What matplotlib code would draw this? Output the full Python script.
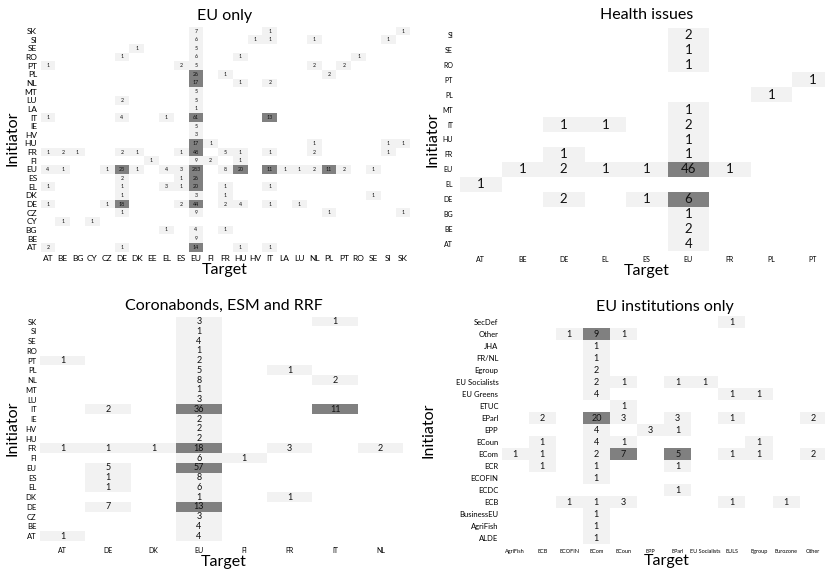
import numpy as np
import matplotlib
matplotlib.use("Agg")
import matplotlib.pyplot as plt
from matplotlib.colors import ListedColormap, BoundaryNorm

plt.rcParams['font.family'] = ['Lato', 'DejaVu Sans']

W, H = 825, 570
LIGHT = "#f2f2f2"
DARK = "#808080"

# ---- EU only ----
eu_targets = ["AT", "BE", "BG", "CY", "CZ", "DE", "DK", "EE", "EL", "ES", "EU",
              "FI", "FR", "HU", "HV", "IT", "LA", "LU", "NL", "PL", "PT", "RO",
              "SE", "SI", "SK"]
eu_initiators = ["AT", "BE", "BG", "CY", "CZ", "DE", "DK", "EL", "ES", "EU", "FI",
                 "FR", "HU", "HV", "IE", "IT", "LA", "LU", "MT", "NL", "PL", "PT",
                 "RO", "SE", "SI", "SK"]
eu_counts = {
    "AT": {"AT": 2, "DE": 1, "EU": 14, "HU": 1, "IT": 1},
    "BE": {"EU": 9},
    "BG": {"EL": 1, "EU": 4, "FR": 1},
    "CY": {"BE": 1, "CY": 1},
    "CZ": {"DE": 1, "EU": 9, "PL": 1, "SK": 1},
    "DE": {"AT": 1, "CZ": 1, "DE": 18, "ES": 2, "EU": 44, "FR": 2, "HU": 4,
           "IT": 1, "LU": 1},
    "DK": {"DE": 1, "EU": 3, "FR": 1, "SE": 1},
    "EL": {"AT": 1, "DE": 1, "EL": 3, "ES": 1, "EU": 20, "FR": 1, "IT": 1},
    "ES": {"DE": 2, "ES": 1, "EU": 26},
    "EU": {"AT": 4, "BE": 1, "CZ": 1, "DE": 23, "DK": 1, "EL": 4, "ES": 3,
           "EU": 283, "FR": 8, "HU": 20, "IT": 11, "LA": 1, "LU": 1, "NL": 2,
           "PL": 11, "PT": 2, "SE": 1},
    "FI": {"EE": 1, "EU": 9, "FI": 2, "HU": 1},
    "FR": {"AT": 1, "BE": 2, "BG": 1, "DE": 2, "DK": 1, "ES": 1, "EU": 48,
           "FR": 5, "HU": 1, "IT": 1, "NL": 2, "SI": 1},
    "HU": {"EU": 17, "FI": 1, "NL": 1, "SI": 1, "SK": 1},
    "HV": {"EU": 3},
    "IE": {"EU": 5},
    "IT": {"AT": 1, "DE": 4, "EL": 1, "EU": 61, "IT": 13},
    "LA": {"EU": 1},
    "LU": {"DE": 2, "EU": 5},
    "MT": {"EU": 5},
    "NL": {"EU": 17, "HU": 1, "IT": 2},
    "PL": {"EU": 26, "FR": 1, "PL": 2},
    "PT": {"AT": 1, "ES": 2, "EU": 5, "NL": 2, "PT": 2},
    "RO": {"DE": 1, "EU": 6, "HU": 1, "RO": 1},
    "SE": {"DK": 1, "EU": 5},
    "SI": {"EU": 6, "HV": 1, "IT": 1, "NL": 1, "SI": 1},
    "SK": {"EU": 7, "IT": 1, "SK": 1},
}

# ---- Health issues ----
health_targets = ["AT", "BE", "DE", "EL", "ES", "EU", "FR", "PL", "PT"]
health_initiators = ["AT", "BE", "BG", "DE", "EL", "EU", "FR", "HU", "IT", "MT",
                     "PL", "PT", "RO", "SE", "SI"]
health_counts = {
    "AT": {"EU": 4},
    "BE": {"EU": 2},
    "BG": {"EU": 1},
    "DE": {"DE": 2, "ES": 1, "EU": 6},
    "EL": {"AT": 1},
    "EU": {"BE": 1, "DE": 2, "EL": 1, "ES": 1, "EU": 46, "FR": 1},
    "FR": {"DE": 1, "EU": 1},
    "HU": {"EU": 1},
    "IT": {"DE": 1, "EL": 1, "EU": 2},
    "MT": {"EU": 1},
    "PL": {"PL": 1},
    "PT": {"PT": 1},
    "RO": {"EU": 1},
    "SE": {"EU": 1},
    "SI": {"EU": 2},
}

# ---- Coronabonds, ESM and RRF ----
corona_targets = ["AT", "DE", "DK", "EU", "FI", "FR", "IT", "NL"]
corona_initiators = ["AT", "BE", "CZ", "DE", "DK", "EL", "ES", "EU", "FI", "FR",
                     "HU", "HV", "IE", "IT", "LU", "MT", "NL", "PL", "PT", "RO",
                     "SE", "SI", "SK"]
corona_counts = {
    "AT": {"AT": 1, "EU": 4},
    "BE": {"EU": 4},
    "CZ": {"EU": 3},
    "DE": {"DE": 7, "EU": 13},
    "DK": {"EU": 1, "FR": 1},
    "EL": {"DE": 1, "EU": 6},
    "ES": {"DE": 1, "EU": 8},
    "EU": {"DE": 5, "EU": 57},
    "FI": {"EU": 6, "FI": 1},
    "FR": {"AT": 1, "DE": 1, "DK": 1, "EU": 18, "FR": 3, "NL": 2},
    "HU": {"EU": 2},
    "HV": {"EU": 2},
    "IE": {"EU": 2},
    "IT": {"DE": 2, "EU": 36, "IT": 11},
    "LU": {"EU": 3},
    "MT": {"EU": 1},
    "NL": {"EU": 8, "IT": 2},
    "PL": {"EU": 5, "FR": 1},
    "PT": {"AT": 1, "EU": 2},
    "RO": {"EU": 1},
    "SE": {"EU": 4},
    "SI": {"EU": 1},
    "SK": {"EU": 3, "IT": 1},
}

# ---- EU institutions only ----
inst_targets = ["AgriFish", "ECB", "ECOFIN", "ECom", "ECoun", "EPP", "EParl",
                "EU Socialists", "EULS", "Egroup", "Eurozone", "Other"]
inst_initiators = ["ALDE", "AgriFish", "BusinessEU", "ECB", "ECDC", "ECOFIN",
                   "ECR", "ECom", "ECoun", "EPP", "EParl", "ETUC", "EU Greens",
                   "EU Socialists", "Egroup", "FR/NL", "JHA", "Other", "SecDef"]
inst_counts = {
    "ALDE": {"ECom": 1},
    "AgriFish": {"ECom": 1},
    "BusinessEU": {"ECom": 1},
    "ECB": {"ECOFIN": 1, "ECom": 1, "ECoun": 3, "EULS": 1, "Eurozone": 1},
    "ECDC": {"EParl": 1},
    "ECOFIN": {"ECom": 1},
    "ECR": {"ECB": 1, "ECom": 1, "EParl": 1},
    "ECom": {"AgriFish": 1, "ECB": 1, "ECom": 2, "ECoun": 7, "EParl": 5,
             "EULS": 1, "Egroup": 1, "Other": 2},
    "ECoun": {"ECB": 1, "ECom": 4, "ECoun": 1, "Egroup": 1},
    "EPP": {"ECom": 4, "EPP": 3, "EParl": 1},
    "EParl": {"ECB": 2, "ECom": 20, "ECoun": 3, "EParl": 3, "EULS": 1, "Other": 2},
    "ETUC": {"ECoun": 1},
    "EU Greens": {"ECom": 4, "EULS": 1, "Egroup": 1},
    "EU Socialists": {"ECom": 2, "ECoun": 1, "EParl": 1, "EU Socialists": 1},
    "Egroup": {"ECom": 2},
    "FR/NL": {"ECom": 1},
    "JHA": {"ECom": 1},
    "Other": {"ECOFIN": 1, "ECom": 9, "ECoun": 1},
    "SecDef": {"EULS": 1},
}


def px_rect(left, top, right, bottom):
    return [left / W, 1 - bottom / H, (right - left) / W, (bottom - top) / H]


def draw_panel(fig, box, title, targets, initiators, counts, dark_from,
               cell_fs, ytick_fs, xtick_fs, ypad, xpad, title_xy, target_xy,
               init_xy):
    ax = fig.add_axes(px_rect(*box))
    grid = np.zeros((len(initiators), len(targets)))
    for row, cells in counts.items():
        for col, val in cells.items():
            grid[initiators.index(row), targets.index(col)] = val

    cmap = ListedColormap([LIGHT, DARK])
    norm = BoundaryNorm([0.5, dark_from - 0.5, grid.max() + 1], 2)
    ax.pcolormesh(np.ma.masked_equal(grid, 0), cmap=cmap, norm=norm,
                  edgecolors="none", antialiased=False)
    for i, j in zip(*np.nonzero(grid)):
        ax.text(j + 0.5, i + 0.5, f"{int(grid[i, j])}", ha="center",
                va="center", fontsize=cell_fs, color="#111111")

    ax.set_xlim(0, len(targets))
    ax.set_ylim(0, len(initiators))
    ax.set_xticks(np.arange(len(targets)) + 0.5, targets, fontsize=xtick_fs)
    ax.set_yticks(np.arange(len(initiators)) + 0.5, initiators,
                  fontsize=ytick_fs)
    ax.tick_params(axis="y", length=0, pad=ypad)
    ax.tick_params(axis="x", length=0, pad=xpad)
    for s in ax.spines.values():
        s.set_visible(False)

    fig.text(title_xy[0] / W, 1 - title_xy[1] / H, title, fontsize=11.5,
             ha="center", va="center")
    fig.text(target_xy[0] / W, 1 - target_xy[1] / H, "Target", fontsize=11.5,
             ha="center", va="center")
    fig.text(init_xy[0] / W, 1 - init_xy[1] / H, "Initiator", fontsize=11.5,
             ha="center", va="center", rotation=90)
    return ax


fig = plt.figure(figsize=(W / 100, H / 100), dpi=100)

draw_panel(fig, (40.6, 26.7, 410.4, 251.6), "EU only", eu_targets,
           eu_initiators, eu_counts, 10, 3.8, 6, 6, 2.5, 2.5,
           (225, 16), (225, 270), (13, 138))
draw_panel(fig, (460, 27.5, 833.5, 251.5), "Health issues", health_targets,
           health_initiators, health_counts, 5, 9.5, 5, 5, 5, 3.5,
           (647, 15), (647, 270.5), (432, 139))
draw_panel(fig, (40, 316.7, 403.3, 541), "Coronabonds, ESM and RRF",
           corona_targets, corona_initiators, corona_counts, 10, 6.5, 5.5, 5,
           2.4, 4.5, (224, 306), (224, 562), (12.5, 428))
draw_panel(fig, (501.5, 316.3, 826.7, 544.3), "EU institutions only",
           inst_targets, inst_initiators, inst_counts, 5, 6.5, 5.5, 4,
           2.3, 3.5, (665, 306.5), (667, 560.5), (428, 430))

fig.savefig("out.png", dpi=100)
